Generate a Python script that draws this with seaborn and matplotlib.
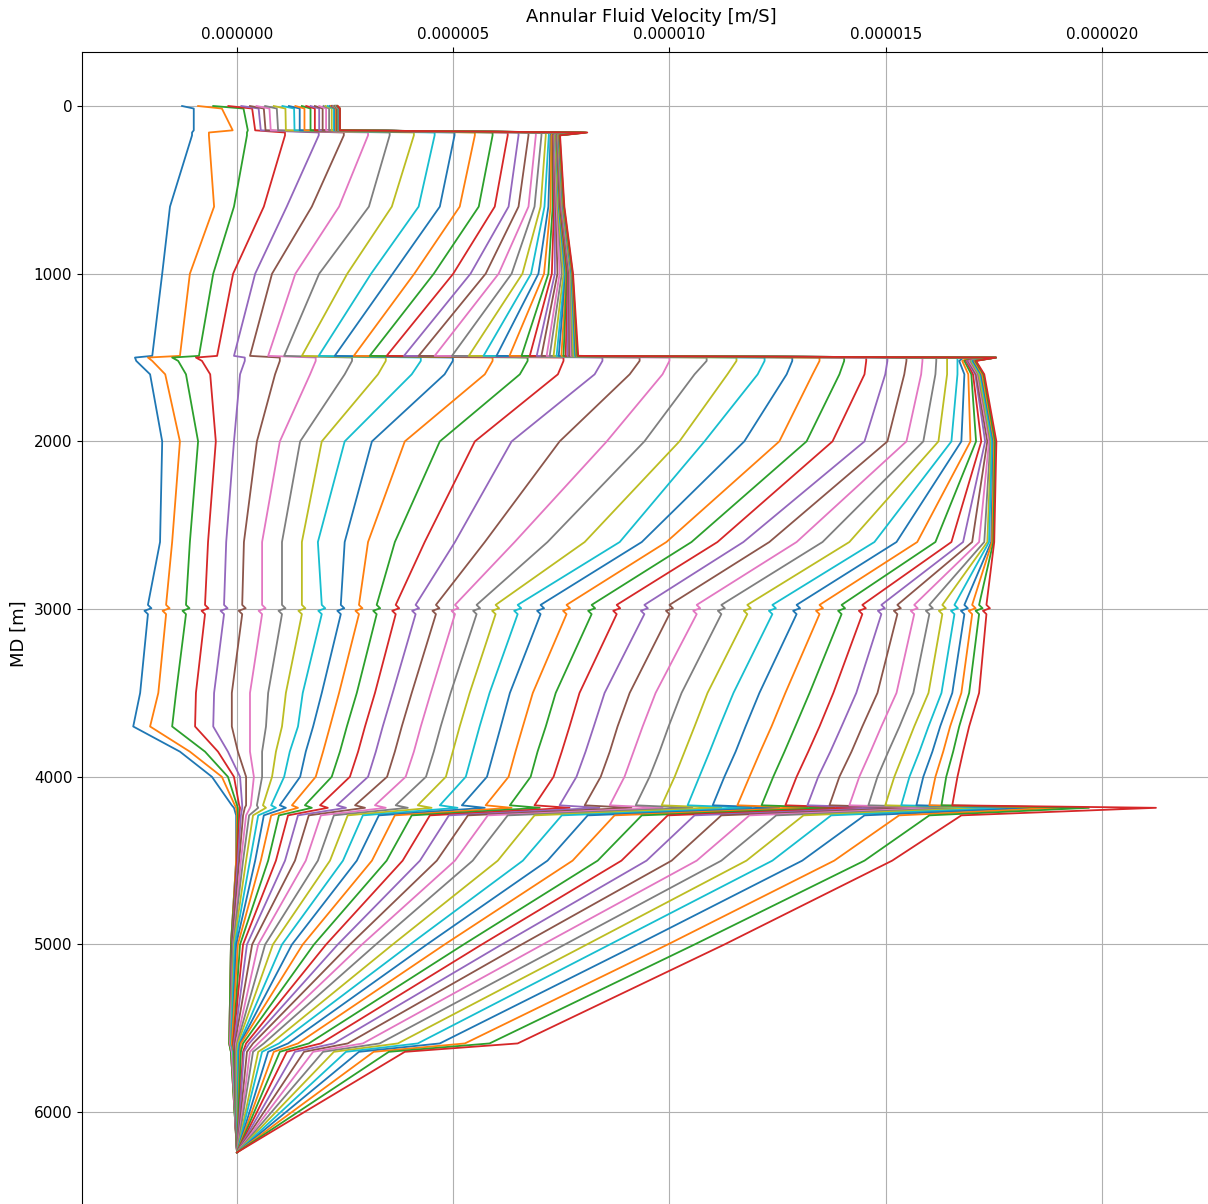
import pandas as pd
import seaborn as sns
import matplotlib.pyplot as plt
from matplotlib.ticker import FormatStrFormatter, MultipleLocator

md_knots = [0, 15, 145, 158, 175, 600, 1000, 1490, 1500, 1520, 1600, 2000, 2600,
            2975, 2995, 3010, 3030, 3500, 3700, 3850, 4000, 4170, 4185, 4230, 4500,
            5000, 5590, 5640, 6240]

# annular fluid velocity in 1e-6 m/s, one entry per profile (44 profiles)
v_0000 = [-1.27, -0.90, -0.55, -0.20, 0.10, 0.30, 0.45, 0.65, 0.85, 1.05,
          1.20, 1.35, 1.50, 1.60, 1.70, 1.80, 1.90, 2.00, 2.05, 2.10,
          2.15, 2.17, 2.19, 2.20, 2.21, 2.22, 2.23, 2.24, 2.25, 2.26,
          2.26, 2.27, 2.27, 2.28, 2.28, 2.29, 2.29, 2.30, 2.30, 2.31,
          2.31, 2.32, 2.32, 2.33]
v_0015 = [-1.00, -0.35, 0.15, 0.35, 0.50, 0.62, 0.75, 0.92, 1.12, 1.32,
          1.45, 1.56, 1.70, 1.80, 1.90, 1.98, 2.06, 2.13, 2.19, 2.24,
          2.27, 2.29, 2.31, 2.32, 2.33, 2.33, 2.34, 2.34, 2.34, 2.35,
          2.35, 2.35, 2.35, 2.36, 2.36, 2.36, 2.36, 2.37, 2.37, 2.37,
          2.37, 2.38, 2.38, 2.38]
v_0145 = [-1.00, -0.10, 0.25, 0.42, 0.55, 0.66, 0.78, 0.95, 1.13, 1.33,
          1.45, 1.56, 1.70, 1.80, 1.90, 1.98, 2.06, 2.13, 2.19, 2.24,
          2.27, 2.29, 2.31, 2.32, 2.33, 2.33, 2.34, 2.34, 2.34, 2.35,
          2.35, 2.35, 2.35, 2.36, 2.36, 2.36, 2.36, 2.37, 2.37, 2.37,
          2.37, 2.38, 2.38, 2.38]
v_0158 = [-1.04, -0.65, 0.23, 1.11, 1.89, 2.47, 3.03, 3.53, 4.09, 4.57,
          5.03, 5.50, 5.91, 6.26, 6.51, 6.74, 6.91, 7.04, 7.14, 7.21,
          7.28, 7.32, 7.36, 7.40, 7.44, 7.48, 7.52, 7.56, 7.60, 7.64,
          7.68, 7.72, 7.76, 7.80, 7.84, 7.88, 7.92, 7.95, 7.98, 8.01,
          8.04, 8.06, 8.08, 8.10]
v_0175 = [-1.04, -0.65, 0.23, 1.11, 1.89, 2.47, 3.03, 3.53, 4.09, 4.57,
          5.03, 5.50, 5.91, 6.26, 6.51, 6.74, 6.91, 7.04, 7.14, 7.21,
          7.25, 7.27, 7.30, 7.31, 7.32, 7.33, 7.34, 7.35, 7.36, 7.37,
          7.38, 7.38, 7.39, 7.40, 7.40, 7.41, 7.42, 7.42, 7.43, 7.44,
          7.44, 7.45, 7.46, 7.47]
v_0600 = [-1.55, -0.53, -0.07, 0.62, 1.15, 1.73, 2.36, 3.05, 3.58, 4.20,
          4.69, 5.15, 5.59, 5.96, 6.28, 6.51, 6.74, 6.88, 7.02, 7.11,
          7.20, 7.25, 7.30, 7.33, 7.35, 7.37, 7.39, 7.41, 7.42, 7.44,
          7.45, 7.46, 7.47, 7.48, 7.49, 7.50, 7.51, 7.52, 7.53, 7.54,
          7.54, 7.55, 7.56, 7.57]
v_1000 = [-1.73, -1.09, -0.55, -0.09, 0.42, 0.81, 1.35, 1.90, 2.55, 3.10,
          3.60, 4.10, 4.55, 5.00, 5.40, 5.75, 6.05, 6.35, 6.60, 6.80,
          6.97, 7.10, 7.20, 7.28, 7.35, 7.41, 7.46, 7.51, 7.55, 7.58,
          7.60, 7.62, 7.63, 7.65, 7.67, 7.68, 7.70, 7.71, 7.72, 7.73,
          7.74, 7.75, 7.76, 7.77]
v_1490 = [-1.96, -1.32, -0.88, -0.46, -0.07, 0.30, 0.72, 1.09, 1.50, 1.89,
          2.26, 2.70, 3.07, 3.46, 3.86, 4.20, 4.57, 4.97, 5.36, 5.70,
          6.00, 6.30, 6.58, 6.77, 6.93, 7.04, 7.16, 7.23, 7.32, 7.39,
          7.44, 7.50, 7.55, 7.60, 7.64, 7.68, 7.72, 7.75, 7.78, 7.81,
          7.83, 7.85, 7.87, 7.89]
v_1500 = [-2.36, -2.06, -1.50, -0.95, 0.18, 0.99, 1.82, 2.66, 3.44, 4.25,
          4.99, 5.91, 6.72, 7.55, 8.45, 9.31, 10.00, 10.86, 11.55, 12.20,
          12.84, 13.47, 14.04, 14.55, 15.04, 15.48, 15.85, 16.17, 16.42, 16.66,
          16.80, 16.95, 17.10, 17.25, 17.40, 17.50, 17.55, 17.55, 17.55, 17.55,
          17.55, 17.55, 17.55, 17.55]
v_1520 = [-2.33, -1.96, -1.36, -0.81, 0.18, 0.99, 1.82, 2.66, 3.44, 4.25,
          4.99, 5.91, 6.72, 7.55, 8.45, 9.31, 10.00, 10.86, 11.55, 12.20,
          12.84, 13.47, 14.04, 14.55, 15.04, 15.48, 15.85, 16.17, 16.42, 16.66,
          16.70, 16.77, 16.82, 16.86, 16.88, 16.91, 16.93, 16.96, 16.98, 17.00,
          17.02, 17.05, 17.07, 17.09]
v_1600 = [-2.01, -1.66, -1.18, -0.62, 0.07, 0.88, 1.69, 2.49, 3.26, 4.04,
          4.80, 5.73, 6.54, 7.42, 8.27, 9.08, 9.84, 10.58, 11.34, 12.04,
          12.71, 13.31, 13.93, 14.51, 14.99, 15.43, 15.82, 16.15, 16.42, 16.66,
          16.82, 16.91, 16.98, 17.02, 17.07, 17.09, 17.12, 17.14, 17.16, 17.19,
          17.21, 17.23, 17.26, 17.28]
v_2000 = [-1.73, -1.32, -0.90, -0.49, -0.07, 0.46, 0.99, 1.46, 1.96, 2.49,
          3.12, 3.88, 4.69, 5.50, 6.35, 7.46, 8.55, 9.42, 10.23, 10.81,
          11.73, 12.54, 13.17, 13.77, 14.51, 15.04, 15.48, 15.87, 16.22, 16.52,
          16.75, 16.96, 17.09, 17.21, 17.30, 17.35, 17.39, 17.42, 17.44, 17.46,
          17.49, 17.51, 17.53, 17.56]
v_2600 = [-1.78, -1.50, -1.09, -0.67, -0.25, 0.16, 0.58, 1.04, 1.50, 1.87,
          2.49, 3.03, 3.65, 4.34, 5.04, 5.73, 6.42, 7.18, 8.04, 8.85,
          9.36, 9.93, 10.51, 11.11, 11.71, 12.31, 12.94, 13.54, 14.16, 14.74,
          15.25, 15.73, 16.15, 16.52, 16.79, 17.00, 17.16, 17.28, 17.35, 17.39,
          17.44, 17.46, 17.49, 17.51]
# small zig-zag that every profile shows around 3000 m
v_2975 = [-2.06, -1.64, -1.18, -0.74, -0.30, 0.12, 0.58, 1.04, 1.50, 1.96,
          2.40, 2.82, 3.23, 3.67, 4.13, 4.60, 5.04, 5.54, 5.98, 6.49,
          7.02, 7.62, 8.20, 8.78, 9.42, 10.00, 10.63, 11.20, 11.80, 12.38,
          12.94, 13.47, 13.98, 14.46, 14.90, 15.27, 15.66, 16.01, 16.31, 16.59,
          16.82, 17.00, 17.16, 17.33]
v_2995 = [-1.98, -1.56, -1.10, -0.66, -0.22, 0.20, 0.66, 1.12, 1.58, 2.04,
          2.48, 2.90, 3.31, 3.75, 4.21, 4.68, 5.12, 5.62, 6.06, 6.57,
          7.10, 7.70, 8.28, 8.86, 9.50, 10.08, 10.71, 11.28, 11.88, 12.46,
          13.02, 13.55, 14.06, 14.54, 14.98, 15.35, 15.74, 16.09, 16.39, 16.67,
          16.90, 17.08, 17.24, 17.41]
v_3010 = [-2.14, -1.72, -1.26, -0.82, -0.38, 0.04, 0.50, 0.96, 1.42, 1.88,
          2.32, 2.74, 3.15, 3.59, 4.05, 4.52, 4.96, 5.46, 5.90, 6.41,
          6.94, 7.54, 8.12, 8.70, 9.34, 9.92, 10.55, 11.12, 11.72, 12.30,
          12.86, 13.39, 13.90, 14.38, 14.82, 15.19, 15.58, 15.93, 16.23, 16.51,
          16.74, 16.92, 17.08, 17.25]
v_3030 = [-2.06, -1.64, -1.18, -0.74, -0.30, 0.12, 0.58, 1.04, 1.50, 1.96,
          2.40, 2.82, 3.23, 3.67, 4.13, 4.60, 5.04, 5.54, 5.98, 6.49,
          7.02, 7.62, 8.20, 8.78, 9.42, 10.00, 10.63, 11.20, 11.80, 12.38,
          12.94, 13.47, 13.98, 14.46, 14.90, 15.27, 15.66, 16.01, 16.31, 16.59,
          16.82, 17.00, 17.16, 17.33]
v_3500 = [-2.24, -1.82, -1.41, -0.95, -0.53, -0.12, 0.30, 0.72, 1.13, 1.52,
          1.96, 2.36, 2.77, 3.19, 3.60, 4.04, 4.48, 4.94, 5.38, 5.84,
          6.31, 6.84, 7.37, 7.92, 8.50, 9.08, 9.68, 10.28, 10.88, 11.48,
          12.08, 12.68, 13.24, 13.79, 14.32, 14.81, 15.25, 15.64, 15.99, 16.29,
          16.54, 16.75, 16.93, 17.16]
v_3700 = [-2.40, -2.01, -1.50, -0.97, -0.55, -0.12, 0.30, 0.67, 1.04, 1.41,
          1.76, 2.15, 2.54, 2.96, 3.37, 3.81, 4.25, 4.71, 5.15, 5.61,
          6.10, 6.61, 7.14, 7.69, 8.25, 8.80, 9.38, 9.98, 10.58, 11.16,
          11.76, 12.36, 12.91, 13.47, 13.98, 14.46, 14.90, 15.32, 15.66, 15.99,
          16.26, 16.49, 16.70, 16.93]
v_3850 = [-1.32, -1.09, -0.74, -0.44, -0.21, 0.02, 0.30, 0.58, 0.90, 1.22,
          1.59, 1.99, 2.38, 2.80, 3.21, 3.65, 4.09, 4.55, 4.99, 5.45,
          5.94, 6.44, 6.95, 7.51, 8.06, 8.62, 9.17, 9.77, 10.35, 10.93,
          11.53, 12.10, 12.66, 13.21, 13.72, 14.21, 14.65, 15.06, 15.43, 15.78,
          16.08, 16.33, 16.56, 16.79]
v_4000 = [-0.58, -0.35, -0.21, -0.07, 0.07, 0.21, 0.39, 0.58, 0.81, 1.09,
          1.46, 1.82, 2.19, 2.61, 3.03, 3.47, 3.90, 4.37, 4.83, 5.29,
          5.78, 6.28, 6.79, 7.32, 7.85, 8.41, 8.96, 9.54, 10.12, 10.69,
          11.27, 11.85, 12.40, 12.94, 13.44, 13.93, 14.39, 14.81, 15.20, 15.55,
          15.87, 16.15, 16.40, 16.66]
v_4170 = [-0.12, -0.05, 0.00, 0.05, 0.12, 0.21, 0.32, 0.46, 0.60, 0.79,
          0.99, 1.27, 1.57, 1.92, 2.31, 2.73, 3.19, 3.67, 4.18, 4.69,
          5.20, 5.75, 6.31, 6.88, 7.46, 8.04, 8.62, 9.22, 9.82, 10.42,
          11.00, 11.57, 12.13, 12.68, 13.19, 13.70, 14.16, 14.60, 14.99, 15.36,
          15.71, 16.01, 16.29, 16.54]
v_4185 = [-0.07, -0.02, 0.02, 0.07, 0.12, 0.18, 0.30, 0.49, 0.67, 0.90,
          1.13, 1.41, 1.73, 2.10, 2.52, 2.96, 3.44, 3.95, 4.50, 5.10,
          5.73, 6.35, 7.00, 7.69, 8.38, 9.12, 9.84, 10.53, 11.20, 11.89,
          12.54, 13.19, 13.81, 14.44, 15.08, 15.66, 16.24, 16.75, 17.28, 17.85,
          18.43, 19.01, 19.70, 21.25]
v_4230 = [-0.02, 0.00, 0.02, 0.05, 0.09, 0.14, 0.21, 0.28, 0.37, 0.49,
          0.62, 0.79, 0.97, 1.18, 1.41, 1.66, 1.94, 2.24, 2.56, 2.91,
          3.28, 3.65, 4.04, 4.46, 4.90, 5.34, 5.80, 6.26, 6.88, 7.51,
          8.11, 8.73, 9.36, 9.96, 10.58, 11.20, 11.85, 12.47, 13.10, 13.74,
          14.51, 15.31, 16.01, 16.75]
v_4500 = [-0.02, -0.02, 0.00, 0.00, 0.02, 0.05, 0.09, 0.14, 0.21, 0.30,
          0.42, 0.55, 0.72, 0.90, 1.11, 1.34, 1.59, 1.87, 2.15, 2.45,
          2.77, 3.12, 3.46, 3.83, 4.23, 4.62, 5.04, 5.45, 6.03, 6.61,
          7.18, 7.76, 8.34, 8.89, 9.47, 10.05, 10.63, 11.20, 11.78, 12.38,
          13.07, 13.81, 14.51, 15.15]
v_5000 = [-0.14, -0.14, -0.14, -0.12, -0.12, -0.12, -0.09, -0.09, -0.07, -0.05,
          -0.02, 0.02, 0.07, 0.14, 0.23, 0.35, 0.49, 0.65, 0.83, 1.04,
          1.27, 1.52, 1.78, 2.06, 2.33, 2.61, 2.89, 3.21, 3.60, 4.00,
          4.39, 4.80, 5.24, 5.66, 6.12, 6.58, 7.07, 7.58, 8.09, 8.62,
          9.26, 9.96, 10.58, 11.27]
v_5590 = [-0.18, -0.18, -0.18, -0.16, -0.16, -0.16, -0.16, -0.14, -0.14, -0.14,
          -0.12, -0.12, -0.09, -0.09, -0.07, -0.05, -0.02, 0.00, 0.02, 0.05,
          0.07, 0.09, 0.14, 0.21, 0.28, 0.37, 0.49, 0.62, 0.79, 0.97,
          1.18, 1.41, 1.66, 1.94, 2.24, 2.56, 2.91, 3.30, 3.72, 4.18,
          4.69, 5.27, 5.84, 6.49]
v_5640 = [-0.14, -0.14, -0.14, -0.12, -0.12, -0.12, -0.12, -0.09, -0.09, -0.09,
          -0.07, -0.07, -0.07, -0.05, -0.05, -0.05, -0.02, -0.02, 0.00, 0.02,
          0.05, 0.07, 0.09, 0.14, 0.16, 0.23, 0.30, 0.37, 0.49, 0.58,
          0.72, 0.85, 0.99, 1.15, 1.34, 1.55, 1.76, 1.99, 2.24, 2.52,
          2.82, 3.16, 3.51, 3.88]
v_6240 = [0.00, 0.00, 0.00, 0.00, 0.00, 0.00, 0.00, 0.00, 0.00, 0.00,
          0.00, 0.00, 0.00, 0.00, 0.00, 0.00, 0.00, 0.00, 0.00, 0.00,
          0.00, 0.00, 0.00, 0.00, 0.00, 0.00, 0.00, 0.00, 0.00, 0.00,
          0.00, 0.00, 0.00, 0.00, 0.00, 0.00, 0.00, 0.00, 0.00, 0.00,
          0.00, 0.00, 0.00, 0.00]

profiles = [v_0000, v_0015, v_0145, v_0158, v_0175, v_0600, v_1000, v_1490, v_1500,
            v_1520, v_1600, v_2000, v_2600, v_2975, v_2995, v_3010, v_3030, v_3500,
            v_3700, v_3850, v_4000, v_4170, v_4185, v_4230, v_4500, v_5000, v_5590,
            v_5640, v_6240]

rows = []
for md, vals in zip(md_knots, profiles):
    for run, v in enumerate(vals):
        rows.append({'run': run, 'md': md, 'velocity': v * 1e-6})
data = pd.DataFrame(rows)
n_runs = data['run'].nunique()

fig = plt.figure(figsize=(12.08, 12.04), dpi=100)
ax = fig.add_axes([0.0679, -0.0101, 0.942, 0.9669])

sns.lineplot(data=data, x='velocity', y='md', hue='run', orient='y',
             palette=sns.color_palette('tab10', n_runs), estimator=None,
             legend=False, linewidth=1.3, ax=ax)

ax.set_xlim(-3.584e-6, 22.73e-6)
ax.set_ylim(6620, -322)
ax.xaxis.set_major_locator(MultipleLocator(5e-6))
ax.xaxis.set_major_formatter(FormatStrFormatter('%.6f'))
ax.yaxis.set_major_locator(MultipleLocator(1000))
ax.xaxis.tick_top()
ax.xaxis.set_label_position('top')
ax.grid(True, color='#b0b0b0', linewidth=0.8)
ax.tick_params(labelsize=11)
ax.set_xlabel('Annular Fluid Velocity [m/S]', fontsize=13)
ax.set_ylabel('MD [m]', fontsize=13)

fig.savefig('out.png', dpi=100)
